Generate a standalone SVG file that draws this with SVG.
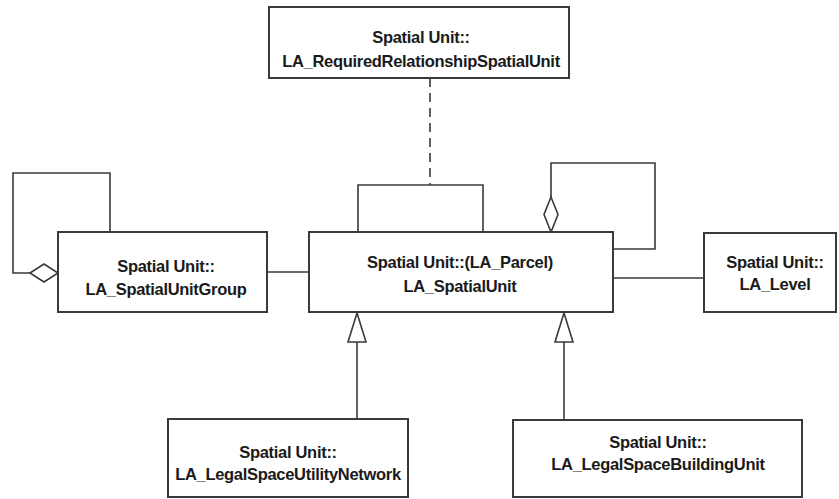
<svg xmlns="http://www.w3.org/2000/svg" width="839" height="499" viewBox="0 0 839 499">
  <defs>
    <style>
      .box { fill: #ffffff; stroke: #3a3a3a; stroke-width: 2; }
      .edge { fill: none; stroke: #3a3a3a; stroke-width: 1.6; }
      .dash { stroke-dasharray: 9 6; }
      .diamond { fill: #ffffff; stroke: #3a3a3a; stroke-width: 1.6; }
      .tri { fill: #ffffff; stroke: #3a3a3a; stroke-width: 1.6; }
      .lbl { font-family: "Liberation Sans", Arial, sans-serif; font-weight: bold; font-size: 16.5px; letter-spacing: -0.3px; fill: #1a1a1a; text-anchor: middle; }
    </style>
  </defs>
  <rect width="839" height="499" fill="#ffffff"/>

  <!-- connectors -->
  <g id="connectors">
    <!-- dependency to the required-relationship class -->
    <line class="edge dash" x1="430" y1="78" x2="430" y2="185"/>
    <!-- association bracket on LA_SpatialUnit -->
    <polyline class="edge" points="358,232 358,185 483,185 483,232"/>
    <!-- self aggregation on LA_SpatialUnit -->
    <polyline class="edge" points="551,197 551,163 655,163 655,249 613,249"/>
    <polygon class="diamond" points="551,197 558,214.5 551,232 544,214.5"/>
    <!-- self aggregation on LA_SpatialUnitGroup -->
    <polyline class="edge" points="110,232 110,173 13,173 13,273 30,273"/>
    <polygon class="diamond" points="30,273 44,264 58,273 44,282"/>
    <!-- group to spatial unit -->
    <line class="edge" x1="267" y1="272" x2="309" y2="272"/>
    <!-- spatial unit to level -->
    <line class="edge" x1="613" y1="278" x2="704" y2="278"/>
    <!-- generalizations -->
    <line class="edge" x1="357" y1="342" x2="357" y2="419"/>
    <polygon class="tri" points="357,313 366,342 348,342"/>
    <line class="edge" x1="564" y1="342" x2="564" y2="420"/>
    <polygon class="tri" points="564,313 573,342 555,342"/>
  </g>

  <g id="required-relationship">
    <rect class="box" x="269" y="7" width="300" height="71"/>
    <text class="lbl" x="421" y="43">Spatial Unit::</text>
    <text class="lbl" x="421" y="67">LA_RequiredRelationshipSpatialUnit</text>
  </g>

  <g id="spatial-unit-group">
    <rect class="box" x="58" y="232" width="209" height="80"/>
    <text class="lbl" x="166" y="272">Spatial Unit::</text>
    <text class="lbl" x="166" y="295">LA_SpatialUnitGroup</text>
  </g>

  <g id="spatial-unit">
    <rect class="box" x="309" y="232" width="304" height="80"/>
    <text class="lbl" x="460" y="268">Spatial Unit::(LA_Parcel)</text>
    <text class="lbl" x="460" y="292">LA_SpatialUnit</text>
  </g>

  <g id="level">
    <rect class="box" x="704" y="233" width="132" height="79"/>
    <text class="lbl" x="775" y="268">Spatial Unit::</text>
    <text class="lbl" x="775" y="290">LA_Level</text>
  </g>

  <g id="utility-network">
    <rect class="box" x="168" y="419" width="240" height="78"/>
    <text class="lbl" x="288" y="458">Spatial Unit::</text>
    <text class="lbl" x="288" y="480">LA_LegalSpaceUtilityNetwork</text>
  </g>

  <g id="building-unit">
    <rect class="box" x="513" y="420" width="289" height="77"/>
    <text class="lbl" x="658" y="448">Spatial Unit::</text>
    <text class="lbl" x="658" y="470">LA_LegalSpaceBuildingUnit</text>
  </g>
</svg>
